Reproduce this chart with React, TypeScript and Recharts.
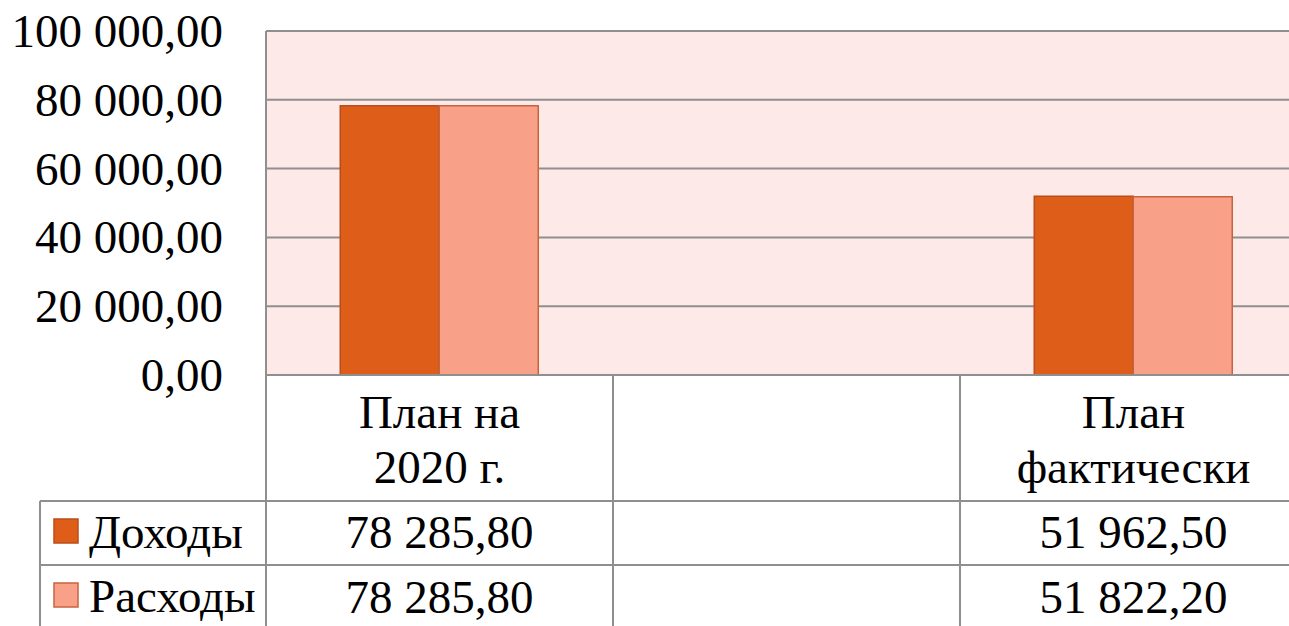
import React from 'react';
import { BarChart, Bar, CartesianGrid, XAxis, YAxis } from 'recharts';

const categories = ['План на\n2020 г.', '', 'План\nфактически'];
const incomeValues = [78285.8, null, 51962.5];
const expenseValues = [78285.8, null, 51822.2];
const yTicks = [0, 20000, 40000, 60000, 80000, 100000];

const seriesNames = ['Доходы', 'Расходы'];
const seriesFill = ['#DD5D19', '#F9A088'];
const seriesStroke = ['#B94E1C', '#C8643C'];

const data = categories.map((name, i) => ({
  name,
  income: incomeValues[i],
  expense: expenseValues[i],
}));

const FONT = '"Liberation Serif"';
const BASE_SIZE = 30;
const SCALE = 47 / BASE_SIZE;
const GRID = '#8f8f8f';

const CHART_W = 1310;
const CHART_H = 626;
const Y_W = 266;
const M_TOP = 31;
const M_RIGHT = 3;
const X_H = 251;
const BAND = (CHART_W - Y_W - M_RIGHT) / categories.length;
const LEGEND_LEFT = 40;

// number like 78 285,80
function fmt(v: number | null) {
  if (v === null || v === undefined) return '';
  const [int, dec] = v.toFixed(2).split('.');
  return int.replace(/\B(?=(\d{3})+(?!\d))/g, ' ') + ',' + dec;
}

// text drawn at a small size and scaled up, so the serif face is kept
function T({ x, y, anchor = 'start', dy, children }: any) {
  return (
    <text
      transform={`translate(${x},${y}) scale(${SCALE})`}
      x={0}
      y={0}
      dy={dy}
      textAnchor={anchor}
      fill="#000"
      style={{ fontFamily: FONT, fontSize: BASE_SIZE }}
    >
      {children}
    </text>
  );
}

function tableTick(p: any) {
  const { x, y, payload, index } = p;
  const i = payload?.index ?? index;
  const lines = String(payload.value || '').split('\n');
  const rows = [incomeValues[i], expenseValues[i]];
  const row1 = y + 126;
  const row2 = y + 190;
  const bottom = y + X_H;
  return (
    <g key={'t' + i}>
      {lines.map((l, k) => (
        <T key={k} x={x} y={y + 53 + k * 55} anchor="middle">
          {l}
        </T>
      ))}
      {rows.map((v, k) => (
        <T key={'v' + k} x={x} y={y + 173 + k * 65} anchor="middle">
          {fmt(v)}
        </T>
      ))}
      <line x1={x + BAND / 2} y1={y} x2={x + BAND / 2} y2={bottom} stroke={GRID} strokeWidth={2} />
      {i === 0 && (
        <g>
          <line x1={x - BAND / 2} y1={y} x2={x - BAND / 2} y2={bottom} stroke={GRID} strokeWidth={2} />
          <line x1={LEGEND_LEFT} y1={row1} x2={CHART_W} y2={row1} stroke={GRID} strokeWidth={2} />
          <line x1={LEGEND_LEFT} y1={row2} x2={CHART_W} y2={row2} stroke={GRID} strokeWidth={2} />
          <line x1={LEGEND_LEFT} y1={row1} x2={LEGEND_LEFT} y2={bottom} stroke={GRID} strokeWidth={2} />
          {seriesNames.map((s, k) => (
            <g key={s}>
              <rect x={54} y={row1 + 18 + k * 64} width={24} height={24} fill={seriesFill[k]} stroke={seriesStroke[k]} strokeWidth={1.5} />
              <T x={89} y={row1 + 47 + k * 64}>
                {s}
              </T>
            </g>
          ))}
        </g>
      )}
    </g>
  );
}

function yTick(p: any) {
  return (
    <T key={'y' + p.index} x={p.x} y={p.y} dy="0.34em" anchor="end">
      {fmt(p.payload.value)}
    </T>
  );
}

export default function App() {
  return (
    <div style={{ position: 'fixed', left: 0, top: 0, width: 1289, height: 626, overflow: 'hidden', background: '#fff' }}>
      <BarChart
        width={CHART_W}
        height={CHART_H}
        data={data}
        margin={{ top: M_TOP, right: M_RIGHT, left: 0, bottom: 0 }}
        barCategoryGap="21.4%"
        barGap={0}
      >
        <CartesianGrid vertical={false} stroke={GRID} strokeWidth={2} fill="#FDE9E7" fillOpacity={1} />
        <XAxis
          dataKey="name"
          height={X_H}
          interval={0}
          tickLine={false}
          tickSize={0}
          tickMargin={0}
          axisLine={{ stroke: GRID, strokeWidth: 2 }}
          tick={tableTick}
        />
        <YAxis
          width={Y_W}
          domain={[0, 100000]}
          ticks={yTicks}
          interval={0}
          tickLine={false}
          tickSize={0}
          tickMargin={43}
          axisLine={{ stroke: GRID, strokeWidth: 2 }}
          tick={yTick}
        />
        <Bar dataKey="income" name={seriesNames[0]} fill={seriesFill[0]} stroke={seriesStroke[0]} strokeWidth={1.5} isAnimationActive={false} />
        <Bar dataKey="expense" name={seriesNames[1]} fill={seriesFill[1]} stroke={seriesStroke[1]} strokeWidth={1.5} isAnimationActive={false} />
      </BarChart>
    </div>
  );
}
